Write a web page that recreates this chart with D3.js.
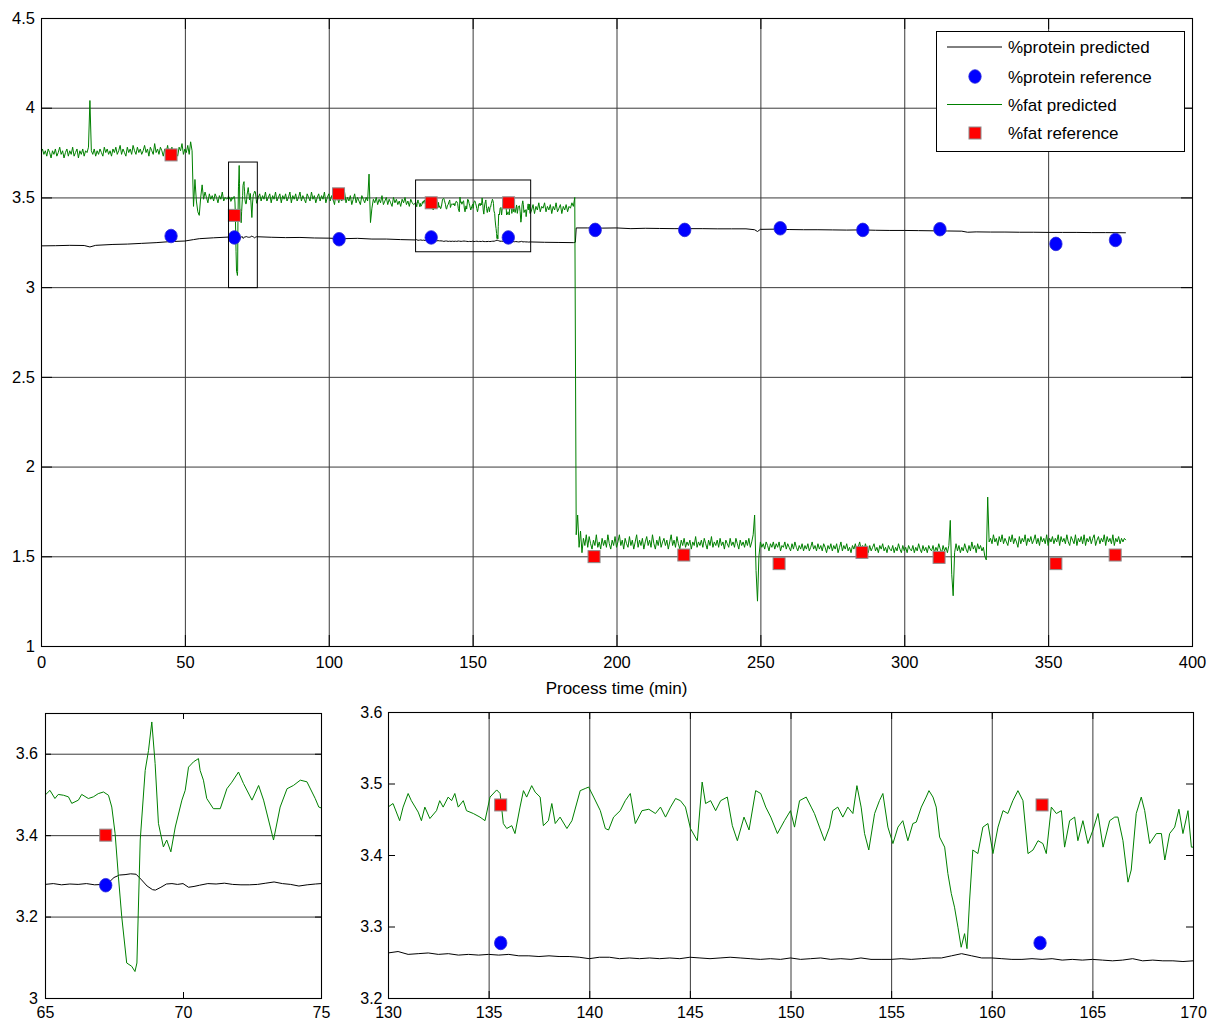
<!DOCTYPE html>
<html>
<head>
<meta charset="utf-8">
<script src="https://cdn.jsdelivr.net/npm/d3@7"></script>
<style>
  body { margin: 0; background: #fff; }
</style>
</head>
<body>
<svg id="chart" width="1214" height="1023"></svg>
<script>
// ---- tick labels ----
const mainXTicks = [0, 50, 100, 150, 200, 250, 300, 350, 400];
const mainXLabels = ['0', '50', '100', '150', '200', '250', '300', '350', '400'];
const mainYTicks = [1, 1.5, 2, 2.5, 3, 3.5, 4, 4.5];
const mainYLabels = ['1', '1.5', '2', '2.5', '3', '3.5', '4', '4.5'];
const zoomAXTicks = [65, 70, 75];
const zoomAXLabels = ['65', '70', '75'];
const zoomAYTicks = [3, 3.2, 3.4, 3.6];
const zoomAYLabels = ['3', '3.2', '3.4', '3.6'];
const zoomBXTicks = [130, 135, 140, 145, 150, 155, 160, 165, 170];
const zoomBXLabels = ['130', '135', '140', '145', '150', '155', '160', '165', '170'];
const zoomBYTicks = [3.2, 3.3, 3.4, 3.5, 3.6];
const zoomBYLabels = ['3.2', '3.3', '3.4', '3.5', '3.6'];
const legendLabels = ['%protein predicted', '%protein reference', '%fat predicted', '%fat reference'];
const xTitle = 'Process time (min)';

// ---- reference (lab) values ----
const proteinRefT = [45.2, 67.2, 103.6, 135.6, 162.4, 192.6, 223.7, 256.9, 285.6, 312.4, 352.7, 373.4];
const proteinRefV = [3.285, 3.277, 3.267, 3.277, 3.277, 3.319, 3.319, 3.328, 3.319, 3.323, 3.241, 3.263];
const fatRefT = [45.2, 67.2, 103.4, 135.6, 162.5, 192.2, 223.4, 256.5, 285.3, 312.1, 352.7, 373.3];
const fatRefV = [3.737, 3.40, 3.52, 3.47, 3.47, 1.498, 1.507, 1.459, 1.522, 1.494, 1.459, 1.507];

// ---- %protein predicted, whole run (coarse) ----
const proteinT = [0, 5, 10, 15, 17, 19, 25, 30, 35, 40, 45, 50, 53, 55, 60,
  80, 85, 90, 95, 100, 105, 110, 115, 120, 125,
  175, 180, 185, 185.7, 186, 190, 195, 200, 205, 210, 215, 220, 225, 230, 235, 240, 245,
  248, 249, 250, 255, 260, 265, 270, 275, 280, 285, 290, 295, 300, 305, 310, 315, 320,
  322, 325, 330, 335, 340, 345, 350, 355, 360, 365, 370, 377];
const proteinV = [3.230, 3.231, 3.233, 3.232, 3.224, 3.233, 3.238, 3.240, 3.244, 3.248, 3.254, 3.257, 3.265, 3.270, 3.275,
  3.278, 3.276, 3.277, 3.274, 3.273, 3.270, 3.272, 3.268, 3.268, 3.265,
  3.250, 3.249, 3.248, 3.250, 3.330, 3.330, 3.329, 3.330, 3.326, 3.328, 3.327, 3.326, 3.326, 3.326, 3.325, 3.325, 3.325,
  3.320, 3.310, 3.322, 3.323, 3.321, 3.320, 3.320, 3.319, 3.318, 3.319, 3.317, 3.316, 3.316, 3.315, 3.314, 3.313, 3.312,
  3.306, 3.308, 3.307, 3.307, 3.306, 3.306, 3.305, 3.305, 3.305, 3.304, 3.304, 3.303];

// ---- %protein predicted, zoom 65-75 ----
const proteinAT = [65, 65.3, 65.6, 65.9, 66.2, 66.5, 66.8, 67.1, 67.3, 67.5, 67.7, 67.9, 68.1, 68.3, 68.5, 68.7, 68.9,
  69.0, 69.2, 69.4, 69.6, 69.8, 70.0, 70.2, 70.4, 70.6, 70.9, 71.2, 71.5, 71.8, 72.1, 72.4, 72.7, 73.0, 73.3,
  73.6, 73.9, 74.2, 74.5, 74.8, 75];
const proteinAV = [3.279, 3.281, 3.278, 3.280, 3.279, 3.281, 3.278, 3.279, 3.283, 3.296, 3.302, 3.303, 3.305, 3.304, 3.290, 3.275, 3.266,
  3.265, 3.272, 3.280, 3.281, 3.279, 3.281, 3.272, 3.274, 3.277, 3.281, 3.280, 3.282, 3.279, 3.278, 3.278, 3.279, 3.282, 3.285,
  3.281, 3.279, 3.275, 3.278, 3.280, 3.281];

// ---- %protein predicted, zoom 130-170 (every 0.5 min) ----
const proteinBStart = 130, proteinBStep = 0.5;
const proteinBV = [3.263, 3.265, 3.261, 3.262, 3.263, 3.261, 3.262, 3.260, 3.261, 3.260,
  3.261, 3.260, 3.261, 3.259, 3.259, 3.258, 3.259, 3.258, 3.258, 3.257,
  3.255, 3.257, 3.257, 3.255, 3.256, 3.255, 3.256, 3.255, 3.256, 3.255,
  3.257, 3.256, 3.255, 3.256, 3.257, 3.256, 3.255, 3.254, 3.255, 3.254,
  3.256, 3.254, 3.255, 3.256, 3.254, 3.255, 3.254, 3.256, 3.254, 3.254,
  3.254, 3.255, 3.254, 3.255, 3.256, 3.256, 3.259, 3.262, 3.259, 3.256,
  3.256, 3.255, 3.254, 3.254, 3.255, 3.254, 3.255, 3.253, 3.254, 3.253,
  3.254, 3.253, 3.252, 3.253, 3.255, 3.252, 3.253, 3.252, 3.252, 3.251, 3.252];

// ---- %fat predicted, whole run (0.5 min samples outside the zoom windows) ----
const fatStep = 0.5;
const fatSeg1Start = 0;
const fatSeg1 = [
  3.75, 3.77, 3.74, 3.76, 3.73, 3.77, 3.75, 3.72, 3.76, 3.74,
  3.77, 3.73, 3.75, 3.78, 3.74, 3.76, 3.72, 3.75, 3.77, 3.73,
  3.76, 3.74, 3.78, 3.73, 3.75, 3.77, 3.72, 3.76, 3.74, 3.77,
  3.73, 3.76, 3.75, 3.78, 4.04, 3.76, 3.74, 3.77, 3.73, 3.76,
  3.74, 3.77, 3.75, 3.73, 3.78, 3.75, 3.77, 3.74, 3.76, 3.73,
  3.77, 3.75, 3.78, 3.74, 3.76, 3.79, 3.74, 3.77, 3.75, 3.73,
  3.78, 3.75, 3.77, 3.74, 3.79, 3.76, 3.74, 3.78, 3.75, 3.77,
  3.74, 3.76, 3.79, 3.75, 3.77, 3.73, 3.78, 3.76, 3.74, 3.80,
  3.75, 3.77, 3.74, 3.78, 3.76, 3.73, 3.77, 3.75, 3.79, 3.74,
  3.76, 3.78, 3.74, 3.77, 3.75, 3.73, 3.78, 3.76, 3.80, 3.74,
  3.77, 3.75, 3.79, 3.74, 3.81, 3.76, 3.45, 3.60, 3.48, 3.42,
  3.40, 3.50, 3.57, 3.49, 3.53, 3.50, 3.47, 3.52, 3.49, 3.51,
  3.48, 3.52, 3.50, 3.47, 3.51, 3.49, 3.53, 3.48, 3.50, 3.49];
const fatSeg2Start = 75;
const fatSeg2 = [
  3.47, 3.50, 3.52, 3.48, 3.51, 3.49, 3.53, 3.48, 3.50, 3.52,
  3.47, 3.51, 3.49, 3.53, 3.48, 3.50, 3.52, 3.47, 3.51, 3.49,
  3.52, 3.48, 3.50, 3.53, 3.47, 3.51, 3.49, 3.52, 3.48, 3.50,
  3.53, 3.48, 3.51, 3.49, 3.47, 3.52, 3.50, 3.48, 3.53, 3.49,
  3.51, 3.47, 3.50, 3.52, 3.48, 3.51, 3.49, 3.53, 3.47, 3.50,
  3.52, 3.48, 3.51, 3.49, 3.46, 3.52, 3.50, 3.47, 3.51, 3.48,
  3.50, 3.53, 3.47, 3.50, 3.48, 3.51, 3.46, 3.49, 3.52, 3.47,
  3.50, 3.48, 3.46, 3.51, 3.49, 3.47, 3.50, 3.48, 3.63, 3.36,
  3.44, 3.49, 3.47, 3.50, 3.46, 3.49, 3.47, 3.51, 3.46, 3.48,
  3.50, 3.46, 3.49, 3.47, 3.45, 3.50, 3.47, 3.49, 3.46, 3.48,
  3.45, 3.49, 3.47, 3.50, 3.46, 3.48, 3.45, 3.49, 3.47, 3.46];
const fatSeg3Start = 170.5;
const fatSeg3 = [
  3.43, 3.46, 3.41, 3.45, 3.43, 3.47, 3.42, 3.45, 3.44,
  3.47, 3.42, 3.45, 3.43, 3.46, 3.41, 3.45, 3.43, 3.47, 3.42,
  3.44, 3.46, 3.41, 3.45, 3.43, 3.46, 3.42, 3.45, 3.44, 3.47,
  3.45, 3.50, 1.62, 1.73, 1.55, 1.64, 1.52, 1.60, 1.56, 1.62,
  1.55, 1.61, 1.57, 1.54, 1.59, 1.56, 1.62, 1.55, 1.58, 1.54,
  1.60, 1.56, 1.59, 1.55, 1.62, 1.57, 1.54, 1.59, 1.56, 1.61,
  1.55, 1.58, 1.62, 1.56, 1.59, 1.54, 1.60, 1.57, 1.55, 1.61,
  1.56, 1.59, 1.54, 1.58, 1.62, 1.55, 1.59, 1.56, 1.60, 1.54,
  1.58, 1.61, 1.56, 1.59, 1.55, 1.62, 1.57, 1.54, 1.59, 1.56,
  1.61, 1.55, 1.58, 1.60, 1.56, 1.59, 1.54, 1.58, 1.62, 1.56,
  1.59, 1.55, 1.61, 1.57, 1.54, 1.59, 1.56, 1.60, 1.55, 1.58,
  1.56, 1.59, 1.54, 1.58, 1.56, 1.61, 1.55, 1.58, 1.56, 1.59,
  1.55, 1.60, 1.57, 1.54, 1.59, 1.56, 1.61, 1.55, 1.58, 1.56,
  1.59, 1.55, 1.60, 1.56, 1.58, 1.54, 1.59, 1.57, 1.55, 1.60,
  1.56, 1.58, 1.55, 1.60, 1.57, 1.54, 1.59, 1.56, 1.58, 1.55,
  1.59, 1.56, 1.60, 1.55, 1.58, 1.62, 1.73, 1.42, 1.25, 1.50,
  1.58, 1.55, 1.57, 1.54, 1.58, 1.56, 1.53, 1.57, 1.55, 1.58,
  1.54, 1.57, 1.55, 1.58, 1.53, 1.56, 1.55, 1.58, 1.54, 1.57,
  1.55, 1.53, 1.57, 1.54, 1.58, 1.55, 1.53, 1.56, 1.54, 1.57,
  1.53, 1.56, 1.54, 1.57, 1.53, 1.55, 1.58, 1.54, 1.56, 1.53,
  1.57, 1.54, 1.56, 1.53, 1.57, 1.55, 1.52, 1.56, 1.54, 1.57,
  1.53, 1.56, 1.54, 1.57, 1.52, 1.55, 1.58, 1.53, 1.56, 1.54,
  1.57, 1.53, 1.55, 1.52, 1.56, 1.54, 1.57, 1.53, 1.55, 1.58,
  1.54, 1.56, 1.53, 1.57, 1.54, 1.52, 1.56, 1.53, 1.55, 1.57,
  1.53, 1.55, 1.52, 1.56, 1.54, 1.57, 1.53, 1.55, 1.52, 1.56,
  1.54, 1.53, 1.56, 1.52, 1.55, 1.53, 1.57, 1.54, 1.52, 1.56,
  1.53, 1.55, 1.52, 1.56, 1.54, 1.53, 1.56, 1.52, 1.55, 1.53,
  1.57, 1.54, 1.52, 1.56, 1.53, 1.55, 1.52, 1.56, 1.54, 1.53,
  1.56, 1.52, 1.55, 1.53, 1.57, 1.54, 1.52, 1.56, 1.53, 1.55,
  1.52, 1.56, 1.70, 1.40, 1.28, 1.52, 1.57, 1.53, 1.56, 1.52,
  1.55, 1.53, 1.57, 1.54, 1.52, 1.56, 1.53, 1.58, 1.54, 1.56,
  1.52, 1.57, 1.54, 1.56, 1.53, 1.55, 1.50, 1.48, 1.83, 1.58,
  1.60, 1.57, 1.62, 1.58, 1.60, 1.56, 1.61, 1.58, 1.62, 1.57,
  1.60, 1.58, 1.56, 1.61, 1.58, 1.62, 1.57, 1.60, 1.58, 1.55,
  1.61, 1.57, 1.60, 1.58, 1.62, 1.56, 1.60, 1.58, 1.61, 1.57,
  1.59, 1.62, 1.57, 1.60, 1.56, 1.61, 1.58, 1.60, 1.57, 1.62,
  1.56, 1.60, 1.58, 1.61, 1.57, 1.60, 1.58, 1.62, 1.56, 1.61,
  1.58, 1.60, 1.57, 1.62, 1.58, 1.56, 1.61, 1.59, 1.57, 1.62,
  1.56, 1.60, 1.58, 1.61, 1.57, 1.62, 1.56, 1.60, 1.58, 1.61,
  1.57, 1.60, 1.62, 1.56, 1.59, 1.61, 1.57, 1.60, 1.58, 1.62,
  1.56, 1.61, 1.58, 1.60, 1.57, 1.62, 1.56, 1.60, 1.58, 1.61,
  1.57, 1.60, 1.58, 1.60, 1.59];

// ---- %fat predicted, zoom 65-75 ----
const fatAT = [65.0, 65.18, 65.36, 65.48, 65.67, 65.85, 65.97, 66.21, 66.33, 66.57, 66.75, 66.93, 67.12, 67.3,
  67.42, 67.54, 67.66, 67.78, 67.96, 68.14, 68.26, 68.33, 68.45, 68.63, 68.75, 68.87, 68.99, 69.11, 69.29,
  69.41, 69.56, 69.72, 69.96, 70.08, 70.2, 70.38, 70.56, 70.62, 70.74, 70.86, 71.1, 71.35, 71.59, 71.77,
  72.01, 72.19, 72.5, 72.74, 72.92, 73.28, 73.52, 73.77, 74.0, 74.25, 74.49, 74.79, 74.92, 75.0];
const fatAV = [3.498, 3.51, 3.49, 3.50, 3.498, 3.494, 3.478, 3.486, 3.50, 3.49, 3.494, 3.502, 3.506, 3.498,
  3.469, 3.404, 3.298, 3.20, 3.086, 3.078, 3.065, 3.086, 3.388, 3.559, 3.608, 3.678, 3.576, 3.429, 3.371,
  3.388, 3.359, 3.42, 3.486, 3.51, 3.567, 3.58, 3.588, 3.559, 3.535, 3.49, 3.465, 3.465, 3.514, 3.53,
  3.555, 3.527, 3.486, 3.522, 3.486, 3.388, 3.469, 3.514, 3.522, 3.535, 3.531, 3.49, 3.469, 3.467];

// ---- %fat predicted, zoom 130-170 ----
const fatBT = [130.0, 130.25, 130.58, 130.75, 131.0, 131.16, 131.5, 131.66, 131.83, 132.08, 132.41, 132.57, 132.74, 132.99,
  133.16, 133.32, 133.49, 133.74, 133.9, 134.24, 134.57, 134.82, 135.07, 135.4, 135.57, 135.73, 135.9, 136.15,
  136.31, 136.56, 136.73, 136.89, 137.14, 137.31, 137.56, 137.72, 137.97, 138.14, 138.31, 138.55, 138.89, 139.14,
  139.55, 139.8, 139.97, 140.22, 140.55, 140.8, 140.96, 141.21, 141.54, 141.79, 142.04, 142.29, 142.62, 142.96,
  143.29, 143.54, 143.79, 144.04, 144.29, 144.53, 144.78, 145.03, 145.37, 145.61, 145.78, 146.03, 146.28, 146.53,
  146.86, 147.11, 147.36, 147.69, 147.94, 148.27, 148.52, 148.77, 149.02, 149.35,
  149.70, 150.0, 150.2, 150.45, 150.78, 151.03, 151.19, 151.44, 151.69, 151.94, 152.1, 152.35, 152.6, 152.85,
  153.1, 153.3, 153.51, 153.68, 153.89, 154.18, 154.42, 154.59, 154.84, 155.09, 155.34, 155.58, 155.83, 156.08,
  156.25, 156.5, 156.74, 156.88, 157.08, 157.24, 157.41, 157.66, 157.82, 157.99, 158.15, 158.32, 158.48, 158.65,
  158.77, 158.9, 159.06, 159.31, 159.56, 159.81, 160.06, 160.31, 160.56, 160.8, 161.05, 161.3, 161.55, 161.8,
  162.05, 162.3, 162.54, 162.71, 162.96, 163.21, 163.46, 163.62, 163.87, 164.12, 164.28, 164.53, 164.78, 165.03,
  165.28, 165.53, 165.86, 166.11, 166.27, 166.52, 166.77, 166.93, 167.18, 167.43, 167.6, 167.85, 168.18, 168.43,
  168.6, 168.84, 169.09, 169.3, 169.5, 169.75, 169.92, 170.08];
const fatBV = [3.467, 3.472, 3.448, 3.467, 3.486, 3.476, 3.46, 3.448, 3.467, 3.451, 3.462, 3.476, 3.467, 3.481,
  3.476, 3.486, 3.467, 3.476, 3.462, 3.458, 3.453, 3.448, 3.481, 3.491, 3.486, 3.444, 3.437, 3.441,
  3.43, 3.467, 3.49, 3.481, 3.497, 3.488, 3.481, 3.441, 3.448, 3.472, 3.444, 3.453, 3.437, 3.448,
  3.49, 3.493, 3.495, 3.481, 3.462, 3.437, 3.435, 3.453, 3.462, 3.476, 3.486, 3.444, 3.462, 3.464,
  3.458, 3.467, 3.453, 3.467, 3.479, 3.476, 3.467, 3.437, 3.42, 3.502, 3.472, 3.476, 3.462, 3.476,
  3.481, 3.441, 3.42, 3.453, 3.435, 3.49, 3.486, 3.467, 3.453, 3.43,
  3.448, 3.462, 3.439, 3.476, 3.481, 3.467, 3.458, 3.439, 3.42, 3.439, 3.462, 3.467, 3.453, 3.467,
  3.458, 3.497, 3.467, 3.43, 3.407, 3.458, 3.476, 3.486, 3.439, 3.416, 3.439, 3.448, 3.42, 3.444,
  3.446, 3.467, 3.481, 3.49, 3.481, 3.467, 3.425, 3.411, 3.374, 3.346, 3.327, 3.299, 3.271, 3.29,
  3.269, 3.337, 3.407, 3.402, 3.439, 3.444, 3.402, 3.439, 3.462, 3.458, 3.476, 3.49, 3.476, 3.402,
  3.407, 3.42, 3.416, 3.402, 3.467, 3.458, 3.462, 3.411, 3.448, 3.453, 3.42, 3.448, 3.416, 3.435,
  3.458, 3.411, 3.448, 3.453, 3.453, 3.42, 3.362, 3.379, 3.458, 3.481, 3.462, 3.416, 3.43, 3.43,
  3.393, 3.43, 3.439, 3.464, 3.43, 3.462, 3.411, 3.411];

// ---- zoom windows marked on the main chart ----
const zoomBoxT = [[65, 75], [130, 170]];
const zoomBoxV = [[3, 3.7], [3.2, 3.6]];

// ------------------------------------------------------------
const FONT = '"Liberation Sans", Arial, Helvetica, sans-serif';
const GREEN = '#008000';
const svg = d3.select('#chart');

const seg = (start, vals) => vals.map((v, i) => [start + i * fatStep, v]);
const byTime = (a, b) => a[0] - b[0];

const proteinA = d3.zip(proteinAT, proteinAV);
const proteinB = proteinBV.map((v, i) => [proteinBStart + i * proteinBStep, v]);
const fatA = d3.zip(fatAT, fatAV);
const fatB = d3.zip(fatBT, fatBV);

const proteinMain = d3.zip(proteinT, proteinV).concat(proteinA, proteinB).sort(byTime);
const fatMain = seg(fatSeg1Start, fatSeg1).concat(fatA, seg(fatSeg2Start, fatSeg2), fatB, seg(fatSeg3Start, fatSeg3)).sort(byTime);

function makePanel(o) {
    const x = d3.scaleLinear().domain(o.xDomain).range([o.left, o.right]);
    const y = d3.scaleLinear().domain(o.yDomain).range([o.bottom, o.top]);
    const w = o.right - o.left, h = o.bottom - o.top;
    const g = svg.append('g');

    svg.append('clipPath').attr('id', 'clip-' + o.name)
        .append('rect').attr('x', o.left).attr('y', o.top).attr('width', w).attr('height', h);

    // grid
    if (o.xGrid) {
        g.append('g').attr('class', 'grid')
            .attr('transform', `translate(0,${o.bottom})`)
            .call(d3.axisBottom(x).tickValues(o.xTicks).tickSize(-h).tickFormat(''));
    }
    if (o.yGrid) {
        g.append('g').attr('class', 'grid')
            .attr('transform', `translate(${o.left},0)`)
            .call(d3.axisLeft(y).tickValues(o.yTicks).tickSize(-w).tickFormat(''));
    }
    g.selectAll('.grid .domain').remove();
    g.selectAll('.grid line').attr('stroke', '#3a3a3a').attr('stroke-width', 1);

    const plot = g.append('g').attr('clip-path', `url(#clip-${o.name})`);
    return {x, y, g, plot, o};
}

function drawLine(p, pts, color) {
    const line = d3.line().x(d => p.x(d[0])).y(d => p.y(d[1]));
    p.plot.append('path').datum(pts)
        .attr('d', line)
        .attr('fill', 'none')
        .attr('stroke', color)
        .attr('stroke-width', 1)
        .attr('stroke-linejoin', 'round');
}

function inside(p, t, v) {
    const [x0, x1] = p.o.xDomain, [y0, y1] = p.o.yDomain;
    return t >= x0 && t <= x1 && v >= y0 && v <= y1;
}

function drawCircles(p, ts, vs) {
    const pts = d3.zip(ts, vs).filter(d => inside(p, d[0], d[1]));
    p.g.append('g').selectAll('ellipse').data(pts).join('ellipse')
        .attr('cx', d => p.x(d[0]))
        .attr('cy', d => p.y(d[1]))
        .attr('rx', 6.2).attr('ry', 6.8)
        .attr('fill', '#0000ff')
        .attr('stroke', '#2a2ad8').attr('stroke-width', 0.8);
}

function drawSquares(p, ts, vs) {
    const pts = d3.zip(ts, vs).filter(d => inside(p, d[0], d[1]));
    p.g.append('g').selectAll('rect').data(pts).join('rect')
        .attr('x', d => p.x(d[0]) - 6)
        .attr('y', d => p.y(d[1]) - 6)
        .attr('width', 12).attr('height', 12)
        .attr('fill', '#ff0000')
        .attr('stroke', '#8c8c8c').attr('stroke-width', 1);
}

function drawAxes(p) {
    const o = p.o, tl = o.tickLen;
    const ax = p.g.append('g');
    ax.append('g').attr('transform', `translate(0,${o.bottom})`)
        .call(d3.axisBottom(p.x).tickValues(o.xTicks).tickSize(-tl).tickPadding(o.xPad)
            .tickFormat((d, i) => o.xLabels[i]));
    ax.append('g').attr('transform', `translate(0,${o.top})`)
        .call(d3.axisTop(p.x).tickValues(o.xTicks).tickSize(-tl).tickFormat(''));
    ax.append('g').attr('transform', `translate(${o.left},0)`)
        .call(d3.axisLeft(p.y).tickValues(o.yTicks).tickSize(-tl).tickPadding(o.yPad)
            .tickFormat((d, i) => o.yLabels[i]));
    ax.append('g').attr('transform', `translate(${o.right},0)`)
        .call(d3.axisRight(p.y).tickValues(o.yTicks).tickSize(-tl).tickFormat(''));
    ax.selectAll('.domain').remove();
    ax.selectAll('.tick line').attr('stroke', '#000');
    ax.selectAll('text').attr('fill', '#000').attr('font-family', FONT).attr('font-size', o.fontSize);

    p.g.append('rect')
        .attr('x', o.left + 0.5).attr('y', o.top + 0.5)
        .attr('width', o.right - o.left).attr('height', o.bottom - o.top)
        .attr('fill', 'none').attr('stroke', '#000').attr('stroke-width', 1.1);
}

// ---------------- main chart ----------------
const main = makePanel({
    name: 'main', left: 41, right: 1192, top: 18, bottom: 646,
    xDomain: [0, 400], yDomain: [1, 4.5],
    xTicks: mainXTicks, xLabels: mainXLabels, yTicks: mainYTicks, yLabels: mainYLabels,
    xGrid: true, yGrid: true, tickLen: 11, xPad: 10, yPad: 6, fontSize: 16.5
});
drawLine(main, proteinMain, '#000');
drawCircles(main, proteinRefT, proteinRefV);
drawLine(main, fatMain, GREEN);
drawSquares(main, fatRefT, fatRefV);

// zoom windows
main.g.append('g').selectAll('rect').data(d3.zip(zoomBoxT, zoomBoxV)).join('rect')
    .attr('x', d => main.x(d[0][0]) + 0.5)
    .attr('y', d => main.y(d[1][1]) + 0.5)
    .attr('width', d => main.x(d[0][1]) - main.x(d[0][0]))
    .attr('height', d => main.y(d[1][0]) - main.y(d[1][1]))
    .attr('fill', 'none').attr('stroke', '#000').attr('stroke-width', 1);

drawAxes(main);

svg.append('text')
    .attr('x', (41 + 1192) / 2).attr('y', 694)
    .attr('text-anchor', 'middle')
    .attr('font-family', FONT).attr('font-size', 17)
    .text(xTitle);

// legend
const lg = svg.append('g');
lg.append('rect').attr('x', 936.5).attr('y', 31.5).attr('width', 248).attr('height', 120)
    .attr('fill', '#fff').attr('stroke', '#000').attr('stroke-width', 1);
const rowY = [47, 76.5, 104.5, 133];
lg.append('line').attr('x1', 947).attr('x2', 1002).attr('y1', rowY[0]).attr('y2', rowY[0])
    .attr('stroke', '#000').attr('stroke-width', 1);
lg.append('ellipse').attr('cx', 975).attr('cy', rowY[1]).attr('rx', 6.2).attr('ry', 6.8)
    .attr('fill', '#0000ff').attr('stroke', '#2a2ad8').attr('stroke-width', 0.8);
lg.append('line').attr('x1', 947).attr('x2', 1002).attr('y1', rowY[2]).attr('y2', rowY[2])
    .attr('stroke', GREEN).attr('stroke-width', 1);
lg.append('rect').attr('x', 969).attr('y', rowY[3] - 6).attr('width', 12).attr('height', 12)
    .attr('fill', '#ff0000').attr('stroke', '#8c8c8c').attr('stroke-width', 1);
lg.selectAll('text').data(legendLabels).join('text')
    .attr('x', 1008).attr('y', (d, i) => rowY[i])
    .attr('dy', '0.36em')
    .attr('font-family', FONT).attr('font-size', 17)
    .text(d => d);

// ---------------- zoom 65-75 ----------------
const zA = makePanel({
    name: 'zoomA', left: 45, right: 321, top: 713, bottom: 998,
    xDomain: [65, 75], yDomain: [3, 3.7],
    xTicks: zoomAXTicks, xLabels: zoomAXLabels, yTicks: zoomAYTicks, yLabels: zoomAYLabels,
    xGrid: false, yGrid: true, tickLen: 6, xPad: 8.5, yPad: 7, fontSize: 16
});
drawLine(zA, proteinA, '#000');
drawCircles(zA, proteinRefT, proteinRefV);
drawLine(zA, fatA, GREEN);
drawSquares(zA, fatRefT, fatRefV);
drawAxes(zA);

// ---------------- zoom 130-170 ----------------
const zB = makePanel({
    name: 'zoomB', left: 388, right: 1193, top: 712, bottom: 998,
    xDomain: [130, 170], yDomain: [3.2, 3.6],
    xTicks: zoomBXTicks, xLabels: zoomBXLabels, yTicks: zoomBYTicks, yLabels: zoomBYLabels,
    xGrid: true, yGrid: false, tickLen: 7, xPad: 8.5, yPad: 5.5, fontSize: 16
});
drawLine(zB, proteinB, '#000');
drawCircles(zB, proteinRefT, proteinRefV);
drawLine(zB, fatB, GREEN);
drawSquares(zB, fatRefT, fatRefV);
drawAxes(zB);
</script>
</body>
</html>
